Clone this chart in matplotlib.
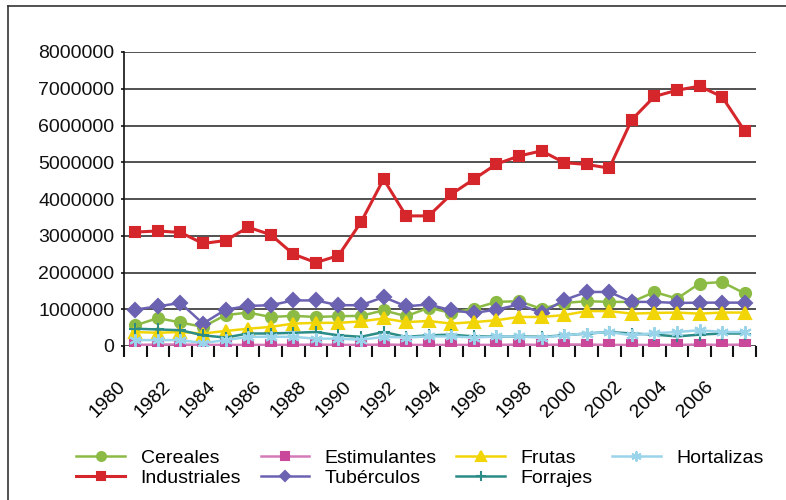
import matplotlib.pyplot as plt
import numpy as np
from matplotlib.ticker import FixedLocator, NullFormatter
from matplotlib.lines import Line2D
from matplotlib.transforms import ScaledTranslation

plt.rcParams['font.family'] = ['Liberation Sans', 'DejaVu Sans']

years = list(range(1980, 2008))

cereales = [0.56, 0.76, 0.64, 0.52, 0.84, 0.91, 0.79, 0.82, 0.79, 0.81, 0.82, 0.97, 0.81, 1.04,
            0.90, 1.02, 1.20, 1.22, 1.01, 1.17, 1.22, 1.20, 1.20, 1.47, 1.29, 1.70, 1.74, 1.43]
industriales = [3.10, 3.13, 3.09, 2.79, 2.87, 3.23, 3.03, 2.50, 2.27, 2.46, 3.37, 4.54, 3.54, 3.54,
                4.13, 4.54, 4.95, 5.17, 5.31, 4.99, 4.94, 4.84, 6.16, 6.79, 6.96, 7.07, 6.78, 5.85]
estimulantes = [0.03, 0.04, 0.04, 0.03, 0.03, 0.03, 0.03, 0.03, 0.04, 0.03, 0.03, 0.04, 0.03, 0.03,
                0.03, 0.03, 0.03, 0.04, 0.03, 0.04, 0.04, 0.03, 0.03, 0.03, 0.03, 0.04, 0.03, 0.04]
tuberculos = [0.99, 1.08, 1.17, 0.61, 0.99, 1.09, 1.11, 1.24, 1.24, 1.11, 1.11, 1.33, 1.08, 1.13,
              0.97, 0.90, 0.99, 1.13, 0.90, 1.25, 1.47, 1.47, 1.20, 1.20, 1.17, 1.18, 1.18, 1.18]
frutas = [0.38, 0.36, 0.38, 0.34, 0.41, 0.47, 0.52, 0.61, 0.63, 0.63, 0.67, 0.75, 0.65, 0.68,
          0.61, 0.65, 0.70, 0.79, 0.79, 0.84, 0.95, 0.95, 0.88, 0.90, 0.91, 0.88, 0.91, 0.91]
forrajes = [0.47, 0.45, 0.43, 0.29, 0.23, 0.34, 0.34, 0.36, 0.38, 0.29, 0.25, 0.38, 0.25, 0.29,
            0.31, 0.26, 0.26, 0.26, 0.25, 0.29, 0.34, 0.38, 0.34, 0.31, 0.26, 0.31, 0.34, 0.34]
hortalizas = [0.16, 0.16, 0.16, 0.08, 0.16, 0.25, 0.25, 0.25, 0.20, 0.20, 0.17, 0.25, 0.23, 0.26,
              0.26, 0.23, 0.26, 0.26, 0.23, 0.29, 0.34, 0.38, 0.29, 0.35, 0.38, 0.43, 0.38, 0.38]

series = [
    ('Cereales', cereales, '#8CBB45', '#8CBB45', 'o', 8),
    ('Industriales', industriales, '#D5262C', '#D5262C', 's', 7.5),
    ('Estimulantes', estimulantes, '#D57AB8', '#C9489A', 's', 7),
    ('Tubérculos', tuberculos, '#6B62B2', '#6B62B2', 'D', 7),
    ('Frutas', frutas, '#F2D507', '#F2D507', '^', 8.5),
    ('Forrajes', forrajes, '#2B8C87', '#2B8C87', '+', 9),
    ('Hortalizas', hortalizas, '#9AD4EA', '#9AD4EA', (6, 2, 0), 9),
]

fig = plt.figure(figsize=(7.86, 5), dpi=100)
ax = fig.add_axes([124 / 786, 1 - 346 / 500, 632 / 786, 294 / 500])

x = np.arange(len(years))
for name, vals, lc, mc, mk, ms in series:
    lw = 2.2 if name == 'Industriales' else 1.8
    ax.plot(x, np.array(vals) * 1e6, color=lc, lw=lw, marker=mk, ms=ms,
            markerfacecolor=mc, markeredgecolor=mc, markeredgewidth=1.5, label=name)

ax.set_xlim(-0.5, len(years) - 0.5)
ax.set_ylim(0, 8000000)
ax.set_yticks(np.arange(0, 8000001, 1000000))
ax.set_yticklabels([str(v) for v in range(0, 8000001, 1000000)], fontsize=14)
ax.yaxis.grid(True, color='#333333', lw=1.2)
ax.set_axisbelow(True)

ax.xaxis.set_major_locator(FixedLocator(x[::2]))
ax.set_xticklabels([str(y) for y in years[::2]], rotation=45, ha='right', va='top', fontsize=14)
ax.xaxis.set_minor_locator(FixedLocator(np.arange(-0.5, len(years), 1)))
ax.xaxis.set_minor_formatter(NullFormatter())
ax.tick_params(axis='x', which='major', length=0, pad=23)
ax.tick_params(axis='x', which='minor', length=8, width=1.5, color='#111111', direction='out')
ax.tick_params(axis='y', length=2, width=1.2, pad=5, colors='#111111')

# nudge year labels a bit to the left
shift = ScaledTranslation(-6 / 100, 0, fig.dpi_scale_trans)
for lab in ax.get_xticklabels():
    lab.set_transform(lab.get_transform() + shift)

for s in ['top', 'right', 'bottom']:
    ax.spines[s].set_visible(False)
ax.spines['left'].set_color('#111111')
ax.spines['left'].set_linewidth(1.2)

fig.legend(loc='center', bbox_to_anchor=(420 / 786, 1 - 468 / 500), ncol=4, frameon=False,
           fontsize=14, handlelength=2.5, handletextpad=0.8, columnspacing=1.0,
           labelspacing=0.12, markerscale=0.8)

# frame around the figure
fig.add_artist(Line2D([8 / 786, 8 / 786], [0, 1 - 6 / 500], color='#333333', lw=1.2))
fig.add_artist(Line2D([8 / 786, 1], [1 - 6 / 500, 1 - 6 / 500], color='#333333', lw=1.2))

fig.savefig('out.png', dpi=100)
